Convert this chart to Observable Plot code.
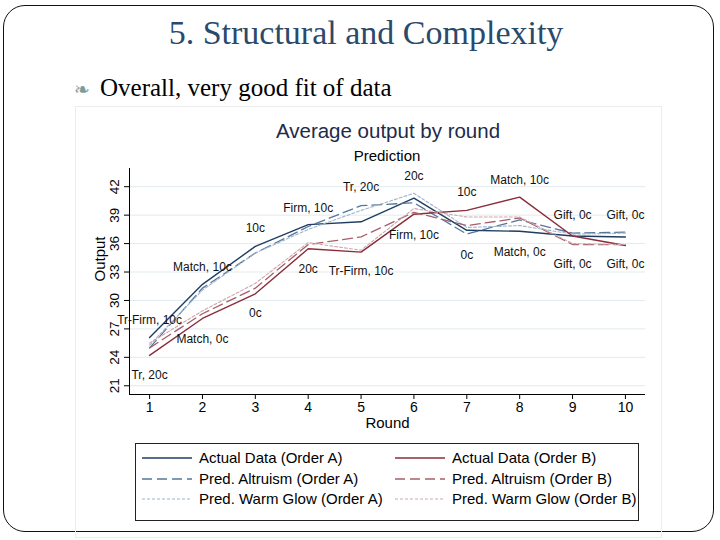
<!DOCTYPE html>
<html><head><meta charset="utf-8">
<script src="https://cdn.jsdelivr.net/npm/d3@7"></script>
<script src="https://cdn.jsdelivr.net/npm/@observablehq/plot@0.6"></script>
<style>
body{margin:0;background:#fff;}
#slide{position:relative;width:720px;height:540px;overflow:hidden;font-family:"Liberation Sans",Arial,sans-serif;background:#fff;}
.border{position:absolute;left:3px;top:5px;width:709px;height:525px;border:1.5px solid #111;border-radius:22px;}
.title{position:absolute;left:0;top:14px;width:732px;text-align:center;font-family:"Liberation Serif",serif;font-size:34px;line-height:38px;color:#2a4a6b;}
.bullet{position:absolute;left:100px;top:74px;font-family:"Liberation Serif",serif;font-size:25px;line-height:28px;color:#000;white-space:nowrap;}
.orn{position:absolute;left:-26px;top:1px;font-family:"DejaVu Sans",sans-serif;font-size:19px;color:#7f9a9a;}
.imgbox{position:absolute;left:75px;top:106px;width:585px;height:430px;border:1px solid #ececec;}
.ctitle{position:absolute;left:0;top:119px;width:776px;text-align:center;font-size:20.5px;line-height:24px;color:#1e2b4a;}
.csub{position:absolute;left:0;top:147px;width:774px;text-align:center;font-size:15px;line-height:18px;color:#000;}
#chart{position:absolute;left:75px;top:160px;}
#legend{position:absolute;left:135px;top:443px;width:502px;height:76px;border:1px solid #222;background:#fff;font-size:15px;}
.item{position:absolute;height:18px;line-height:18px;white-space:nowrap;color:#000;}
.item svg{position:absolute;left:0;top:4px;}
.item span{position:absolute;left:57px;top:0;}
</style></head><body>
<div id="slide">
  <div class="border"></div>
  <div class="title">5. Structural and Complexity</div>
  <div class="bullet"><span class="orn">❧</span>Overall, very good fit of data</div>
  <div class="imgbox"></div>
  <div class="ctitle">Average output by round</div>
  <div class="csub">Prediction</div>
  <div id="chart"></div>
  <div id="legend"></div>
</div>
<script>
// ---- data ----
const rounds = [1, 2, 3, 4, 5, 6, 7, 8, 9, 10];
const actualA = [26.1, 31.7, 35.7, 38.0, 38.3, 40.8, 37.4, 37.3, 36.8, 36.7];
const altruismA = [25.0, 31.3, 35.0, 37.8, 40.0, 40.3, 37.0, 38.5, 37.1, 37.2];
const warmGlowA = [25.3, 31.1, 35.0, 37.5, 39.5, 41.3, 37.7, 37.9, 37.0, 37.1];
const actualB = [24.2, 28.1, 30.7, 35.45, 35.1, 39.1, 39.5, 40.9, 36.8, 35.8];
const altruismB = [25.0, 28.6, 31.3, 35.9, 36.7, 39.3, 37.9, 38.7, 35.9, 35.9];
const warmGlowB = [25.5, 28.9, 31.8, 36.1, 35.3, 39.7, 38.8, 38.8, 36.0, 35.9];
const seriesNames = ["Actual Data (Order A)", "Pred. Altruism (Order A)", "Pred. Warm Glow (Order A)",
                     "Actual Data (Order B)", "Pred. Altruism (Order B)", "Pred. Warm Glow (Order B)"];
const yTicks = [21, 24, 27, 30, 33, 36, 39, 42];
const labelText = ["Tr, 20c", "Tr-Firm, 10c", "Match, 10c", "Match, 0c", "10c", "0c", "Firm, 10c", "20c",
                   "Tr, 20c", "Tr-Firm, 10c", "20c", "Firm, 10c", "10c", "0c", "Match, 10c", "Match, 0c",
                   "Gift, 0c", "Gift, 0c", "Gift, 0c", "Gift, 0c"];
const labelRound = [1, 1, 2, 2, 3, 3, 4, 4, 5, 5, 6, 6, 7, 7, 8, 8, 9, 9, 10, 10];
const labelValue = [22.1, 27.9, 33.5, 25.9, 37.6, 28.7, 39.7, 33.3, 41.9, 33.1, 43.1, 36.9, 41.4, 34.75, 42.7, 35.1, 39.0, 33.8, 39.0, 33.8];

// ---- styles ----
const seriesValues = [actualA, altruismA, warmGlowA, actualB, altruismB, warmGlowB];
const styles = [
  {stroke: "#1f3d63", dash: null, width: 1.4},
  {stroke: "#56779a", dash: "10,5", width: 1.3},
  {stroke: "#9fb4c9", dash: "3,2", width: 1.1},
  {stroke: "#8a2c3a", dash: null, width: 1.4},
  {stroke: "#a6606b", dash: "10,5", width: 1.3},
  {stroke: "#cfa6ad", dash: "3,2", width: 1.1}
];

const tables = seriesValues.map((vals, s) => rounds.map((r, i) => ({round: r, output: vals[i], series: seriesNames[s]})));
const labels = labelText.map((t, i) => ({text: t, round: labelRound[i], output: labelValue[i]}));

const xDomain = [0.62, 10.38];
const yDomain = [20.08, 43.92];

const lineMarks = tables.map((tbl, s) => Plot.line(tbl, {
  x: "round", y: "output", stroke: styles[s].stroke, strokeWidth: styles[s].width,
  strokeDasharray: styles[s].dash || undefined, strokeLinejoin: "miter"
}));

const chart = Plot.plot({
  width: 585, height: 280,
  marginLeft: 54, marginRight: 15, marginTop: 8, marginBottom: 46,
  style: {fontFamily: "Liberation Sans, Arial, sans-serif", background: "transparent", color: "#000"},
  x: {domain: xDomain},
  y: {domain: yDomain},
  marks: [
    Plot.gridY(yTicks, {stroke: "#e2ebee", strokeOpacity: 1, strokeWidth: 1}),
    Plot.ruleY([yDomain[0]], {stroke: "#000", strokeWidth: 1}),
    Plot.ruleX([xDomain[0]], {stroke: "#000", strokeWidth: 1}),
    Plot.axisY(yTicks, {tickRotate: -90, tickSize: 5, tickPadding: 6, fontSize: 13.5, label: null, stroke: "#000"}),
    Plot.axisX(rounds, {tickSize: 5, tickPadding: 3, fontSize: 14, label: null, stroke: "#000"}),
    ...lineMarks,
    Plot.text(labels, {x: "round", y: "output", text: "text", fontSize: 12, fill: "#111"}),
    Plot.text(["Round"], {frameAnchor: "bottom", text: d => d, dy: 33, fontSize: 15, fill: "#000"}),
    Plot.text(["Output"], {frameAnchor: "left", text: d => d, dx: -29, rotate: -90, fontSize: 15, fill: "#000"})
  ]
});
document.getElementById("chart").appendChild(chart);

// ---- legend ----
const legend = document.getElementById("legend");
const pos = [[6, 5], [6, 26], [6, 46], [259, 5], [259, 26], [259, 46]];
const order = [0, 1, 2, 3, 4, 5];
order.forEach((s, k) => {
  const d = document.createElement("div");
  d.className = "item";
  d.style.left = pos[k][0] + "px";
  d.style.top = pos[k][1] + "px";
  const st = styles[s];
  d.innerHTML = `<svg width="50" height="10"><line x1="0" y1="5" x2="50" y2="5" stroke="${st.stroke}" stroke-width="${st.width}" ${st.dash ? `stroke-dasharray="${st.dash}"` : ""}/></svg><span>${seriesNames[s]}</span>`;
  legend.appendChild(d);
});
</script>
</body></html>
